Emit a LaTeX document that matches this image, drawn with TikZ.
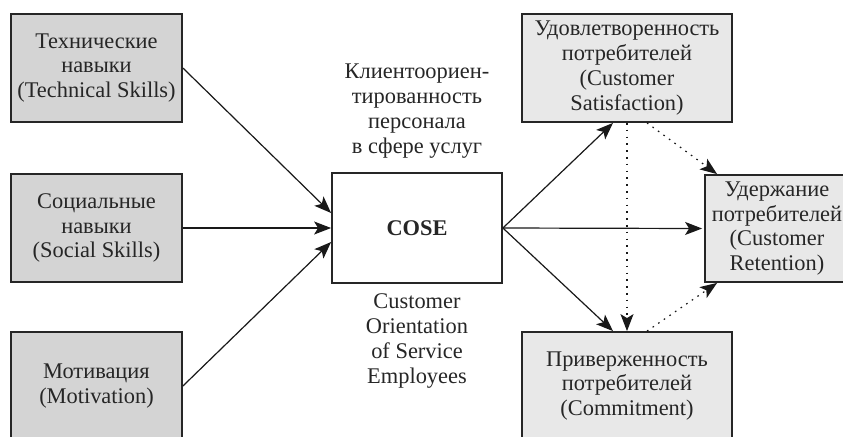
\documentclass[tikz,border=0pt]{standalone}
\usepackage{fontspec}
\setmainfont{Liberation Serif}
\usetikzlibrary{positioning}
\usetikzlibrary{arrows.meta}

\tikzset{
  every node/.style={font=\fontsize{11.2}{12.4}\selectfont, text=black!85},
  leftbox/.style={draw=black!85, line width=0.9pt, fill=black!17, minimum width=85.5pt, minimum height=54pt, align=center, inner sep=1pt},
  rightbox/.style={leftbox, fill=black!9, minimum width=105pt},
  arr/.style={-{Stealth[length=8.5pt,width=6.5pt,inset=2pt]}, line width=0.6pt, black!90},
  dotarr/.style={arr, dash pattern=on 0.8pt off 2.6pt},
}

\begin{document}
\begin{tikzpicture}[x=0.5pt,y=-0.5pt]
  \clip (0,0) rectangle (843,436);
  \fill[white] (0,0) rectangle (843,436);

  % left
  \node[leftbox] (tech) at (96.5,68) {Технические\\навыки\\(Technical Skills)};
  \node[leftbox] (soc) at (96.5,228) {Социальные\\навыки\\(Social Skills)};
  \node[leftbox] (motiv) at (96.5,386) {Мотивация\\(Motivation)};

  % middle
  \node[draw=black!85, line width=0.9pt, fill=white, minimum width=85pt, minimum height=55pt] (cose) at (417,228) {\textbf{COSE}};
  \node[align=center] (ru) at (417,111) {Клиентоориен-\\тированность\\персонала\\в сфере услуг};
  \node[align=center] (en) at (417,341) {Customer\\Orientation\\of Service\\Employees};

  % right
  \node[rightbox] (sat) at (627,68) {Удовлетворенность\\потребителей\\(Customer\\Satisfaction)};
  \node[rightbox] (comm) at (627,386) {Приверженность\\потребителей\\(Commitment)};
  \node[rightbox, minimum width=72pt, minimum height=53.5pt, inner sep=0pt] (ret) at (777,228.5) {Удержание\\потребителей\\(Customer\\Retention)};

  \draw[arr] (tech.east) -- ([yshift=7.5pt]cose.west);
  \draw[arr] (soc.east) -- (cose.west);
  \draw[arr] (motiv.east) -- ([yshift=-7pt]cose.west);

  \draw[arr] (cose.east) -- ([xshift=-7pt]sat.south);
  \draw[arr] (cose.east) -- ([xshift=-1pt]ret.west);
  \draw[arr] (cose.east) -- ([xshift=-7pt]comm.north);

  \draw[dotarr] (sat.south) -- (comm.north);
  \draw[dotarr] ([xshift=10pt]sat.south) -- ([xshift=6.5pt]ret.north west);
  \draw[dotarr] ([xshift=10pt]comm.north) -- ([xshift=6.5pt]ret.south west);
\end{tikzpicture}
\end{document}
